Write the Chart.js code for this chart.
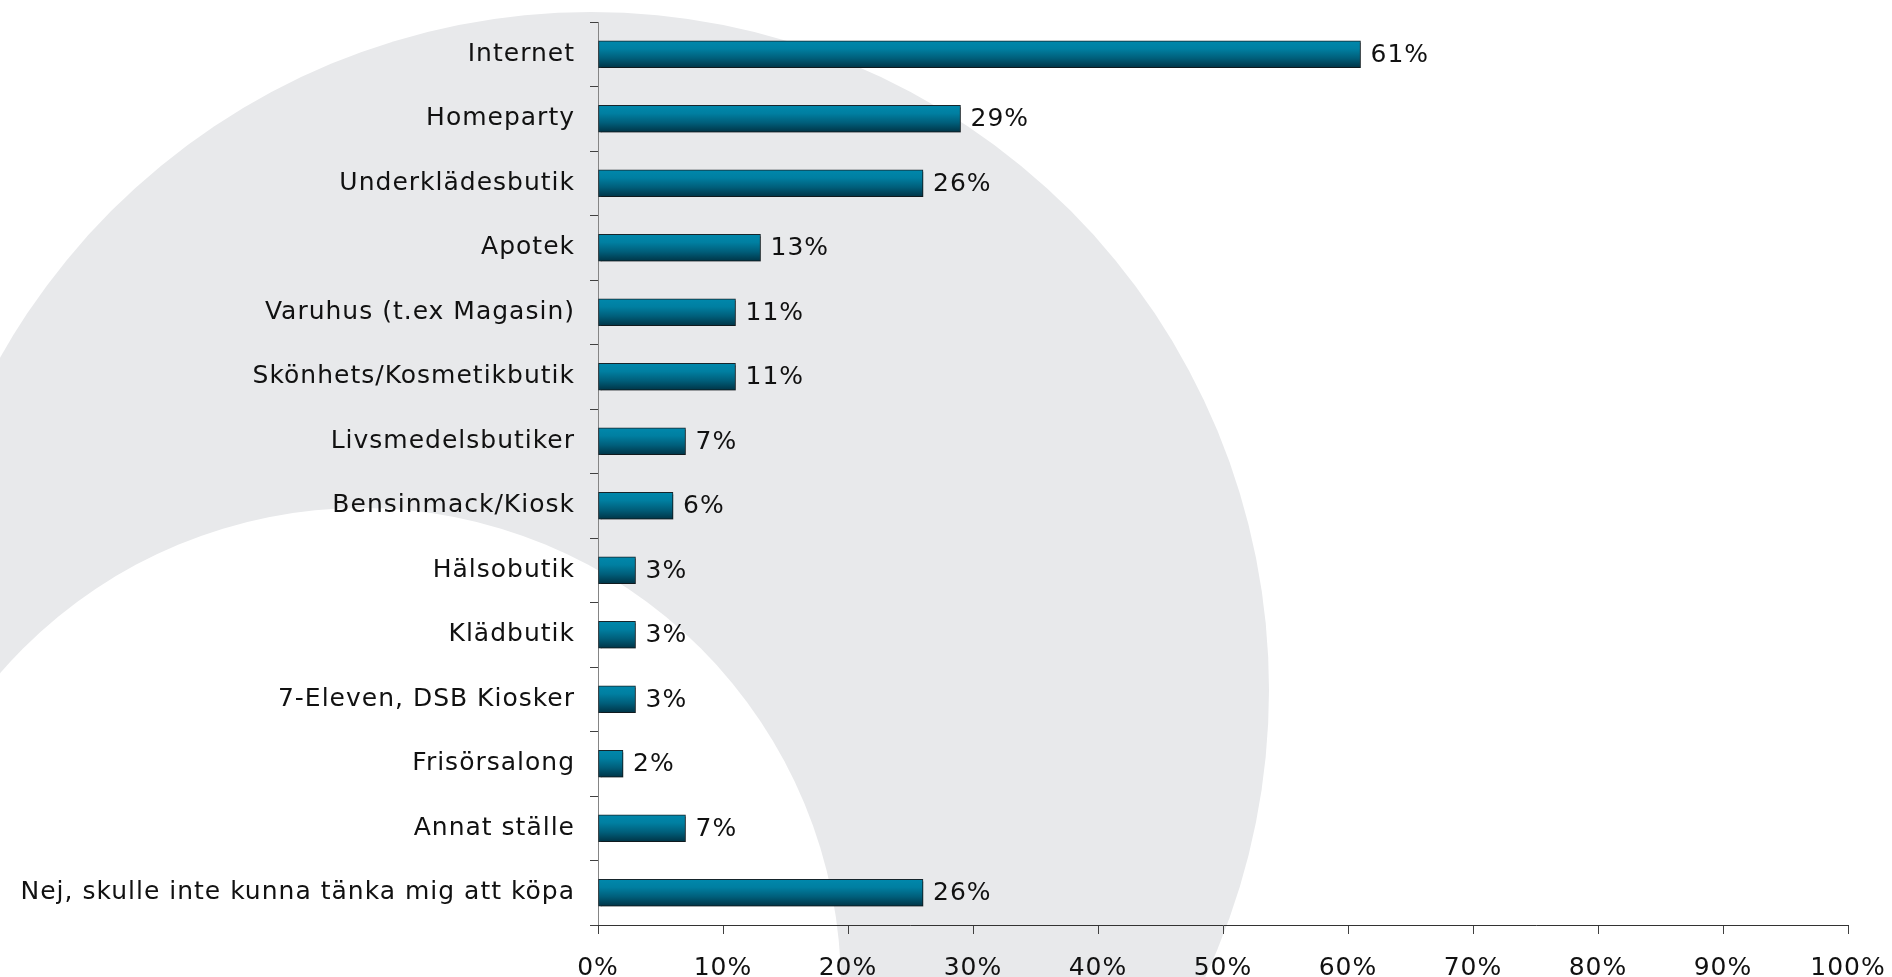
<!DOCTYPE html>
<html>
<head>
<meta charset="utf-8">
<script src="https://cdn.jsdelivr.net/npm/chart.js@4"></script>
<style>
  html, body { margin: 0; padding: 0; background: #ffffff; }
  #wrap { width: 1892px; height: 977px; }
</style>
</head>
<body>
<div id="wrap"><canvas id="c" width="1892" height="977"></canvas></div>
<script>
const categories = [
  'Internet',
  'Homeparty',
  'Underklädesbutik',
  'Apotek',
  'Varuhus (t.ex Magasin)',
  'Skönhets/Kosmetikbutik',
  'Livsmedelsbutiker',
  'Bensinmack/Kiosk',
  'Hälsobutik',
  'Klädbutik',
  '7-Eleven, DSB Kiosker',
  'Frisörsalong',
  'Annat ställe',
  'Nej, skulle inte kunna tänka mig att köpa'
];
const values = [61, 29, 26, 13, 11, 11, 7, 6, 3, 3, 3, 2, 7, 26];
const xTickLabels = ['0%', '10%', '20%', '30%', '40%', '50%', '60%', '70%', '80%', '90%', '100%'];

const FONT_FAMILY = "'DejaVu Sans', Verdana, sans-serif";
const FONT_SIZE = 25;
const BAR_THICK = 27;

// decorative background arch
const backgroundPlugin = {
  id: 'bgArch',
  beforeDraw(chart) {
    const ctx = chart.ctx;
    ctx.save();
    ctx.fillStyle = '#ffffff';
    ctx.fillRect(0, 0, chart.width, chart.height);
    ctx.fillStyle = 'rgb(232,233,235)';
    ctx.beginPath();
    ctx.arc(591, 690, 678, 0, Math.PI * 2);
    ctx.fill();
    ctx.fillStyle = '#ffffff';
    ctx.beginPath();
    ctx.arc(362, 987, 479, 0, Math.PI * 2);
    ctx.fill();
    ctx.restore();
    ctx.letterSpacing = '1px';
  }
};

const shadowPlugin = {
  id: 'barShadow',
  beforeDatasetsDraw(chart) {
    const ctx = chart.ctx;
    ctx.save();
    ctx.shadowColor = 'rgba(0,0,0,0.30)';
    ctx.shadowOffsetX = 2;
    ctx.shadowOffsetY = 2;
    ctx.shadowBlur = 0;
  },
  afterDatasetsDraw(chart) {
    chart.ctx.restore();
  }
};

const valueLabelPlugin = {
  id: 'valueLabels',
  afterDatasetsDraw(chart) {
    const ctx = chart.ctx;
    const meta = chart.getDatasetMeta(0);
    ctx.save();
    ctx.letterSpacing = '1px';
    ctx.font = FONT_SIZE + 'px ' + FONT_FAMILY;
    ctx.fillStyle = '#111111';
    ctx.textAlign = 'left';
    ctx.textBaseline = 'middle';
    meta.data.forEach((bar, i) => {
      ctx.fillText(values[i] + '%', bar.x + 10, bar.y + 1);
    });
    ctx.restore();
  }
};

function barGradient(context) {
  const chart = context.chart;
  const yScale = chart.scales && chart.scales.y;
  if (!yScale || context.dataIndex === undefined) return '#006a88';
  const yc = yScale.getPixelForValue(context.dataIndex);
  if (!isFinite(yc)) return '#006a88';
  const g = chart.ctx.createLinearGradient(0, yc - BAR_THICK / 2, 0, yc + BAR_THICK / 2);
  g.addColorStop(0, '#0088ac');
  g.addColorStop(0.3, '#007fa1');
  g.addColorStop(0.65, '#005e7a');
  g.addColorStop(1, '#003446');
  return g;
}

new Chart(document.getElementById('c'), {
  type: 'bar',
  data: {
    labels: categories,
    datasets: [{
      data: values,
      backgroundColor: barGradient,
      borderColor: '#16252b',
      borderWidth: 1,
      borderSkipped: false,
      barThickness: BAR_THICK
    }]
  },
  plugins: [backgroundPlugin, shadowPlugin, valueLabelPlugin],
  options: {
    indexAxis: 'y',
    responsive: false,
    animation: false,
    events: [],
    layout: { padding: { top: 22, right: 44, left: 0, bottom: 0 } },
    plugins: {
      legend: { display: false },
      tooltip: { enabled: false },
      title: { display: false }
    },
    scales: {
      y: {
        type: 'category',
        offset: true,
        afterFit(s) { s.width = 598; s.paddingTop = 0; s.paddingBottom = 0; },
        grid: {
          offset: true,
          drawOnChartArea: false,
          drawTicks: true,
          tickLength: 8,
          color: '#404040',
          lineWidth: 1
        },
        border: { display: true, color: '#858585', width: 1 },
        ticks: {
          color: '#111111',
          padding: 15,
          font: { family: FONT_FAMILY, size: FONT_SIZE }
        }
      },
      x: {
        type: 'linear',
        min: 0,
        max: 100,
        afterFit(s) { s.height = 52; s.paddingLeft = 0; s.paddingRight = 0; },
        grid: {
          drawOnChartArea: false,
          drawTicks: true,
          tickLength: 9,
          color: '#404040',
          lineWidth: 1
        },
        border: { display: true, color: '#333333', width: 1 },
        ticks: {
          stepSize: 10,
          maxRotation: 0,
          autoSkip: false,
          color: '#111111',
          padding: 19,
          font: { family: FONT_FAMILY, size: FONT_SIZE },
          callback: (v, i) => xTickLabels[i]
        }
      }
    }
  }
});
</script>
</body>
</html>
